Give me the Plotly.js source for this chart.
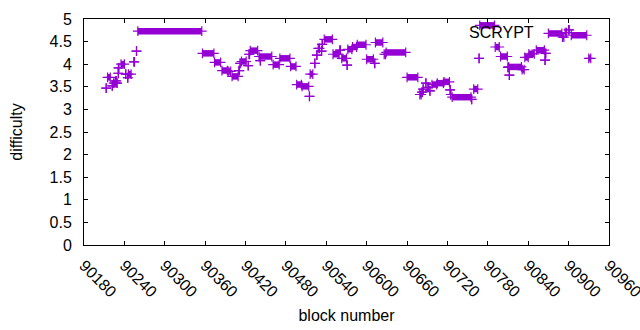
<!DOCTYPE html>
<html>
<head>
<meta charset="utf-8">
<script src="https://cdn.plot.ly/plotly-3.0.1.min.js"></script>
<style>html,body{margin:0;padding:0;background:#fff;}#chart{width:640px;height:330px;}</style>
</head>
<body>
<div id="chart"></div>
<script>
// Runs of constant difficulty: first block, last block, difficulty
var runStart = [90213,90215,90222,90224,90227,90229,90231,90231,90235,90242,90245,90246,90254,90258,90260,90356,90374,90385,90395,90400,90410,90412,90414,90424,90425,90427,90440,90442,90461,90471,90487,90496,90504,90515,90516,90523,90526,90528,90533,90534,90537,90550,90560,90563,90571,90572,90579,90586,90600,90612,90613,90626,90629,90660,90679,90682,90684,90688,90691,90694,90697,90705,90715,90724,90725,90727,90756,90759,90767,90768,90791,90799,90810,90811,90812,90831,90835,90841,90852,90865,90866,90870,90891,90895,90900,90904,90930];
var runEnd   = [90213,90219,90222,90226,90228,90229,90231,90232,90240,90242,90245,90250,90255,90258,90355,90373,90383,90393,90398,90409,90411,90412,90421,90424,90426,90438,90459,90442,90470,90486,90495,90503,90514,90515,90520,90523,90526,90530,90533,90534,90549,90559,90561,90570,90571,90578,90585,90599,90610,90612,90624,90628,90658,90676,90681,90683,90684,90688,90692,90694,90704,90714,90723,90724,90725,90755,90756,90765,90767,90790,90797,90809,90810,90830,90812,90834,90840,90849,90864,90865,90866,90890,90893,90897,90901,90927,90933];
var runValue = [3.47,3.71,3.52,3.58,3.63,3.58,3.80,3.92,4.00,3.78,3.70,3.78,4.05,4.29,4.73,4.24,4.04,3.86,3.84,3.73,3.86,4.02,4.06,3.97,4.22,4.30,4.17,4.08,3.99,4.13,3.95,3.55,3.51,3.29,3.78,4.02,4.20,4.35,4.29,4.44,4.55,4.22,4.31,4.13,3.98,4.33,4.38,4.43,4.11,4.02,4.48,4.22,4.26,3.71,3.33,3.38,3.45,3.58,3.49,3.41,3.55,3.58,3.61,3.43,3.33,3.27,3.22,3.45,4.13,4.86,4.38,4.17,3.93,3.94,3.76,3.88,4.15,4.23,4.31,4.09,4.24,4.68,4.60,4.70,4.76,4.64,4.13];
var xTicks = [90180,90240,90300,90360,90420,90480,90540,90600,90660,90720,90780,90840,90900,90960];
var yTicks = [0,0.5,1,1.5,2,2.5,3,3.5,4,4.5,5];
var seriesName = "SCRYPT";

var xs = [], ys = [];
for (var i = 0; i < runStart.length; i++) {
  xs.push(runStart[i], runEnd[i], null);
  ys.push(runValue[i], runValue[i], null);
}
var color = "#9400d3";
var trace = {
  x: xs, y: ys, type: "scatter", mode: "lines+markers",
  line: {color: color, width: 6.5},
  marker: {symbol: "cross-thin", size: 7, line: {color: color, width: 1.2}, color: color},
  connectgaps: false, showlegend: false, hoverinfo: "skip", cliponaxis: false
};
var font = {family: "Liberation Sans, Arial, sans-serif", size: 16, color: "#000"};
var layout = {
  width: 640, height: 330,
  margin: {l: 84, r: 31, t: 19, b: 85, pad: 0},
  paper_bgcolor: "#fff", plot_bgcolor: "#fff",
  font: font,
  showlegend: false,
  xaxis: {
    range: [90180, 90960.05], tickvals: xTicks, ticktext: xTicks.map(String),
    tickangle: 45, ticks: "inside", ticklen: 4, tickcolor: "#000",
    showline: true, linecolor: "#000", linewidth: 1, mirror: "ticks",
    showgrid: false, zeroline: false, ticklabelstandoff: 4,
    ticklabeloverflow: "allow", automargin: false,
    title: {text: "block number", font: font, standoff: 10}
  },
  yaxis: {
    range: [0, 5], tickvals: yTicks, ticktext: yTicks.map(String),
    ticks: "inside", ticklen: 4, tickcolor: "#000",
    showline: true, linecolor: "#000", linewidth: 1, mirror: "ticks",
    showgrid: false, zeroline: false, ticklabelstandoff: 8, automargin: false,
    title: {text: "difficulty", font: font, standoff: 22}
  },
  annotations: [{
    text: seriesName, xref: "paper", yref: "paper", x: 0.861, y: 0.94,
    xanchor: "right", yanchor: "middle", showarrow: false, font: font
  }]
};
Plotly.newPlot("chart", [trace], layout, {staticPlot: true, displayModeBar: false});
</script>
</body>
</html>
